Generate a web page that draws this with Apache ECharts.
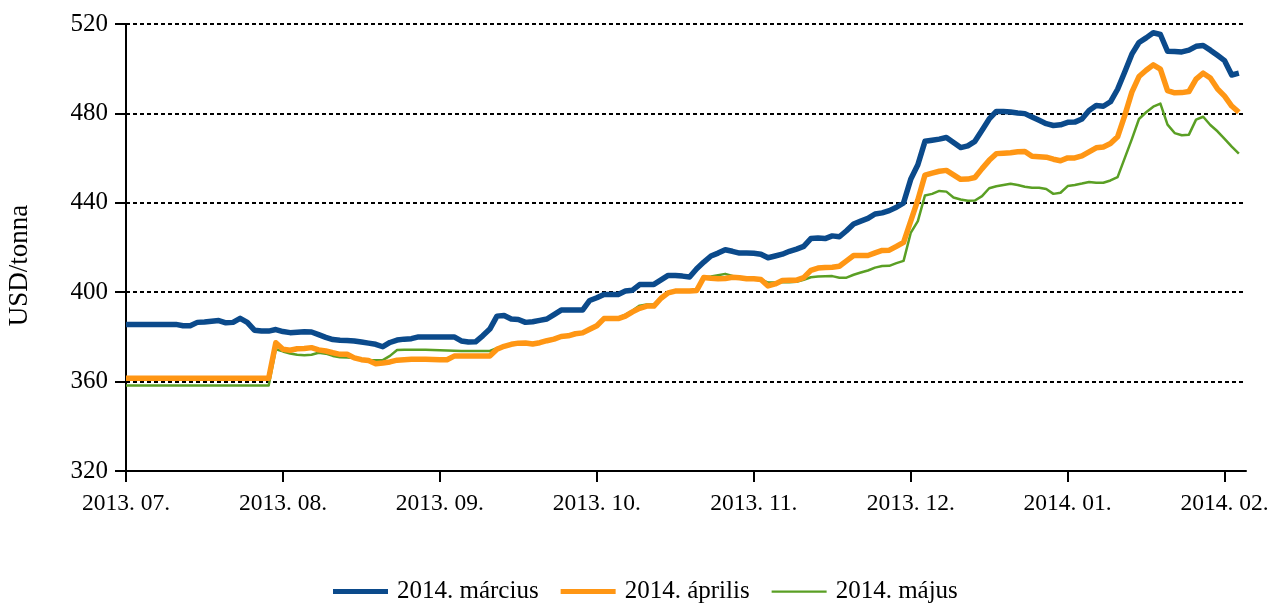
<!DOCTYPE html>
<html>
<head>
<meta charset="utf-8">
<script src="https://cdn.jsdelivr.net/npm/echarts@6/dist/echarts.min.js"></script>
<style>
  html, body { margin: 0; padding: 0; background: #fff; }
  #chart { width: 1268px; height: 603px; }
</style>
</head>
<body>
<div id="chart"></div>
<script>
// Month labels on the time axis; each month spans 22 trading days
const monthLabels = ['2013. 07.', '2013. 08.', '2013. 09.', '2013. 10.', '2013. 11.', '2013. 12.', '2014. 01.', '2014. 02.'];
const daysPerMonth = 22;
const dayCount = 158;

// Futures prices, USD/tonna, by delivery month
const marcius = [
  385.6,385.6,385.6,385.6,385.6,385.6,385.6,385.6,385.0,385.0,
  386.5,386.7,387.0,387.3,386.3,386.5,388.3,386.5,383.0,382.6,
  382.6,383.3,382.4,381.9,382.1,382.3,382.2,381.0,379.8,378.8,
  378.5,378.4,378.2,377.7,377.2,376.7,375.6,377.5,378.6,379.0,
  379.2,380.0,380.0,380.0,380.0,380.0,380.0,378.2,377.7,377.8,
  380.5,383.5,389.3,389.6,388.0,387.8,386.5,386.8,387.4,388.0,
  390.0,392.0,392.0,392.0,392.0,396.3,397.5,399.0,399.0,399.0,
  400.5,400.9,403.4,403.5,403.5,405.5,407.5,407.5,407.2,406.8,
  410.5,413.5,416.2,417.5,419.0,418.3,417.5,417.5,417.4,417.0,
  415.4,416.2,417.0,418.3,419.3,420.5,424.0,424.2,424.0,425.2,
  424.8,427.5,430.5,431.8,433.0,435.0,435.5,436.5,438.0,440.0,
  450.5,457.0,467.5,468.0,468.5,469.2,467.0,464.7,465.5,467.5,
  472.5,477.5,480.9,480.8,480.6,480.2,479.9,478.4,476.9,475.4,
  474.6,474.9,476.0,476.1,477.5,481.3,483.5,483.2,485.2,490.8,
  498.5,506.5,511.7,513.8,516.1,515.3,507.8,507.7,507.5,508.3,
  510.0,510.4,508.3,506.0,503.6,497.2,498.0
];
const aprilis = [
  361.5,361.5,361.5,361.5,361.5,361.5,361.5,361.5,361.5,361.5,
  361.5,361.5,361.5,361.5,361.5,361.5,361.5,361.5,361.5,361.5,
  361.5,377.4,374.5,374.0,374.7,374.8,375.2,374.2,373.7,372.9,
  372.2,372.2,370.6,369.8,369.4,368.0,368.3,368.8,369.6,369.8,
  370.0,370.0,370.0,369.9,369.8,369.8,371.4,371.4,371.4,371.4,
  371.4,371.5,374.5,375.8,376.7,377.2,377.3,376.8,377.4,378.3,
  379.0,380.2,380.5,381.4,381.8,383.4,385.0,388.2,388.2,388.2,
  389.3,391.2,392.8,393.8,393.8,397.3,399.7,400.5,400.5,400.5,
  400.8,406.6,406.2,406.0,406.1,406.7,406.5,406.0,406.0,405.7,
  402.8,403.7,405.2,405.4,405.4,406.5,409.8,410.8,411.1,411.2,
  411.6,414.0,416.4,416.4,416.4,417.6,418.7,418.8,420.5,422.3,
  431.8,441.3,452.4,453.3,454.1,454.5,452.5,450.5,450.6,451.3,
  455.3,459.0,462.0,462.2,462.4,462.8,463.0,460.8,460.6,460.4,
  459.5,458.8,460.1,460.1,461.0,462.8,464.6,465.0,466.5,469.5,
  479.0,489.5,496.5,499.3,501.7,499.8,490.2,489.2,489.3,489.8,
  495.3,498.0,495.8,491.0,487.7,483.3,480.5
];
const majus = [
  358.3,358.3,358.3,358.3,358.3,358.3,358.3,358.3,358.3,358.3,
  358.3,358.3,358.3,358.3,358.3,358.3,358.3,358.3,358.3,358.3,
  358.3,374.5,373.5,372.6,372.0,371.8,372.0,372.9,372.5,371.5,
  370.9,370.8,370.6,370.1,369.7,369.6,369.6,371.5,374.1,374.3,
  374.3,374.3,374.2,374.1,374.0,373.9,373.8,373.7,373.7,373.7,
  373.7,373.7,375.0,375.8,376.7,377.2,377.3,376.8,377.4,378.3,
  379.0,380.2,380.5,381.4,381.8,383.4,385.0,388.2,388.2,388.5,
  390.0,391.8,394.0,394.5,394.5,397.3,400.0,400.5,400.5,400.5,
  401.0,406.6,407.0,407.6,408.2,407.3,406.5,406.0,406.0,405.7,
  404.3,404.3,404.4,404.5,404.7,405.5,406.7,407.0,407.1,407.2,
  406.5,406.5,407.8,408.8,409.7,411.0,411.7,411.8,413.0,414.0,
  426.5,431.8,443.3,444.0,445.3,445.0,442.4,441.5,440.9,441.0,
  443.0,446.5,447.4,448.0,448.5,448.0,447.2,446.7,446.7,446.2,
  444.0,444.5,447.5,448.0,448.6,449.3,449.0,449.0,450.0,451.5,
  460.0,468.5,477.5,480.5,483.0,484.4,475.0,471.2,470.2,470.5,
  477.2,478.5,474.8,472.0,468.6,465.1,462.0
];

const yTicks = { min: 320, max: 520, step: 40 };

// Trading-day index along the x axis
const days = Array.from({ length: dayCount }, (_, i) => String(i));

const serif = '"Liberation Serif", "Times New Roman", serif';
const chart = echarts.init(document.getElementById('chart'), null, { renderer: 'canvas' });

// Legend swatches: thick bars for the two front months, a thin one for May
const thickBar = 'path://M0,0 L55,0 L55,5 L0,5 Z';
const thinBar = 'path://M0,0 M0,1.4 L55,1.4 L55,3.8 L0,3.8 Z M55,5';

chart.setOption({
  animation: false,
  backgroundColor: '#ffffff',
  textStyle: { fontFamily: serif, color: '#000' },
  grid: { left: 126, right: 22, top: 24, bottom: 132, containLabel: false, outerBoundsMode: 'none' },
  xAxis: {
    type: 'category',
    data: days,
    boundaryGap: false,
    axisLine: { show: true, lineStyle: { color: '#000', width: 2 } },
    axisTick: { show: true, interval: daysPerMonth - 1, length: 11, lineStyle: { color: '#000', width: 2 } },
    axisLabel: {
      interval: daysPerMonth - 1,
      margin: 21,
      fontFamily: serif,
      fontSize: 23.5,
      color: '#000',
      formatter: (v, i) => (i % daysPerMonth === 0 ? (monthLabels[i / daysPerMonth] || '') : '')
    },
    splitLine: { show: false }
  },
  yAxis: {
    type: 'value',
    min: yTicks.min,
    max: yTicks.max,
    interval: yTicks.step,
    name: 'USD/tonna',
    nameLocation: 'middle',
    nameRotate: 90,
    nameGap: 93,
    nameTextStyle: { fontFamily: serif, fontSize: 27, color: '#000', padding: [0, 36, 0, 0] },
    axisLine: { show: true, lineStyle: { color: '#000', width: 2 } },
    axisTick: { show: true, length: 11, lineStyle: { color: '#000', width: 2 } },
    axisLabel: { margin: 18, fontFamily: serif, fontSize: 25, color: '#000' },
    splitLine: { show: true, lineStyle: { color: '#000', width: 2, type: [4, 3] } }
  },
  legend: {
    top: 574,
    left: 328,
    itemWidth: 55,
    itemHeight: 5,
    itemGap: 22,
    textStyle: { fontFamily: serif, fontSize: 25, color: '#000', padding: [0, 0, 0, 4] },
    data: [
      { name: '2014. március', icon: thickBar },
      { name: '2014. április', icon: thickBar },
      { name: '2014. május', icon: thinBar }
    ]
  },
  series: [
    {
      name: '2014. március', type: 'line', data: marcius, showSymbol: false, symbol: 'none', z: 4,
      lineStyle: { color: '#0b4a8b', width: 5.5, join: 'round' }, itemStyle: { color: '#0b4a8b' }
    },
    {
      name: '2014. április', type: 'line', data: aprilis, showSymbol: false, symbol: 'none', z: 3,
      lineStyle: { color: '#ff9614', width: 5.5, join: 'round' }, itemStyle: { color: '#ff9614' }
    },
    {
      name: '2014. május', type: 'line', data: majus, showSymbol: false, symbol: 'none', z: 2,
      lineStyle: { color: '#5a9f24', width: 2.5, join: 'round' }, itemStyle: { color: '#5a9f24' }
    }
  ]
});
</script>
</body>
</html>
